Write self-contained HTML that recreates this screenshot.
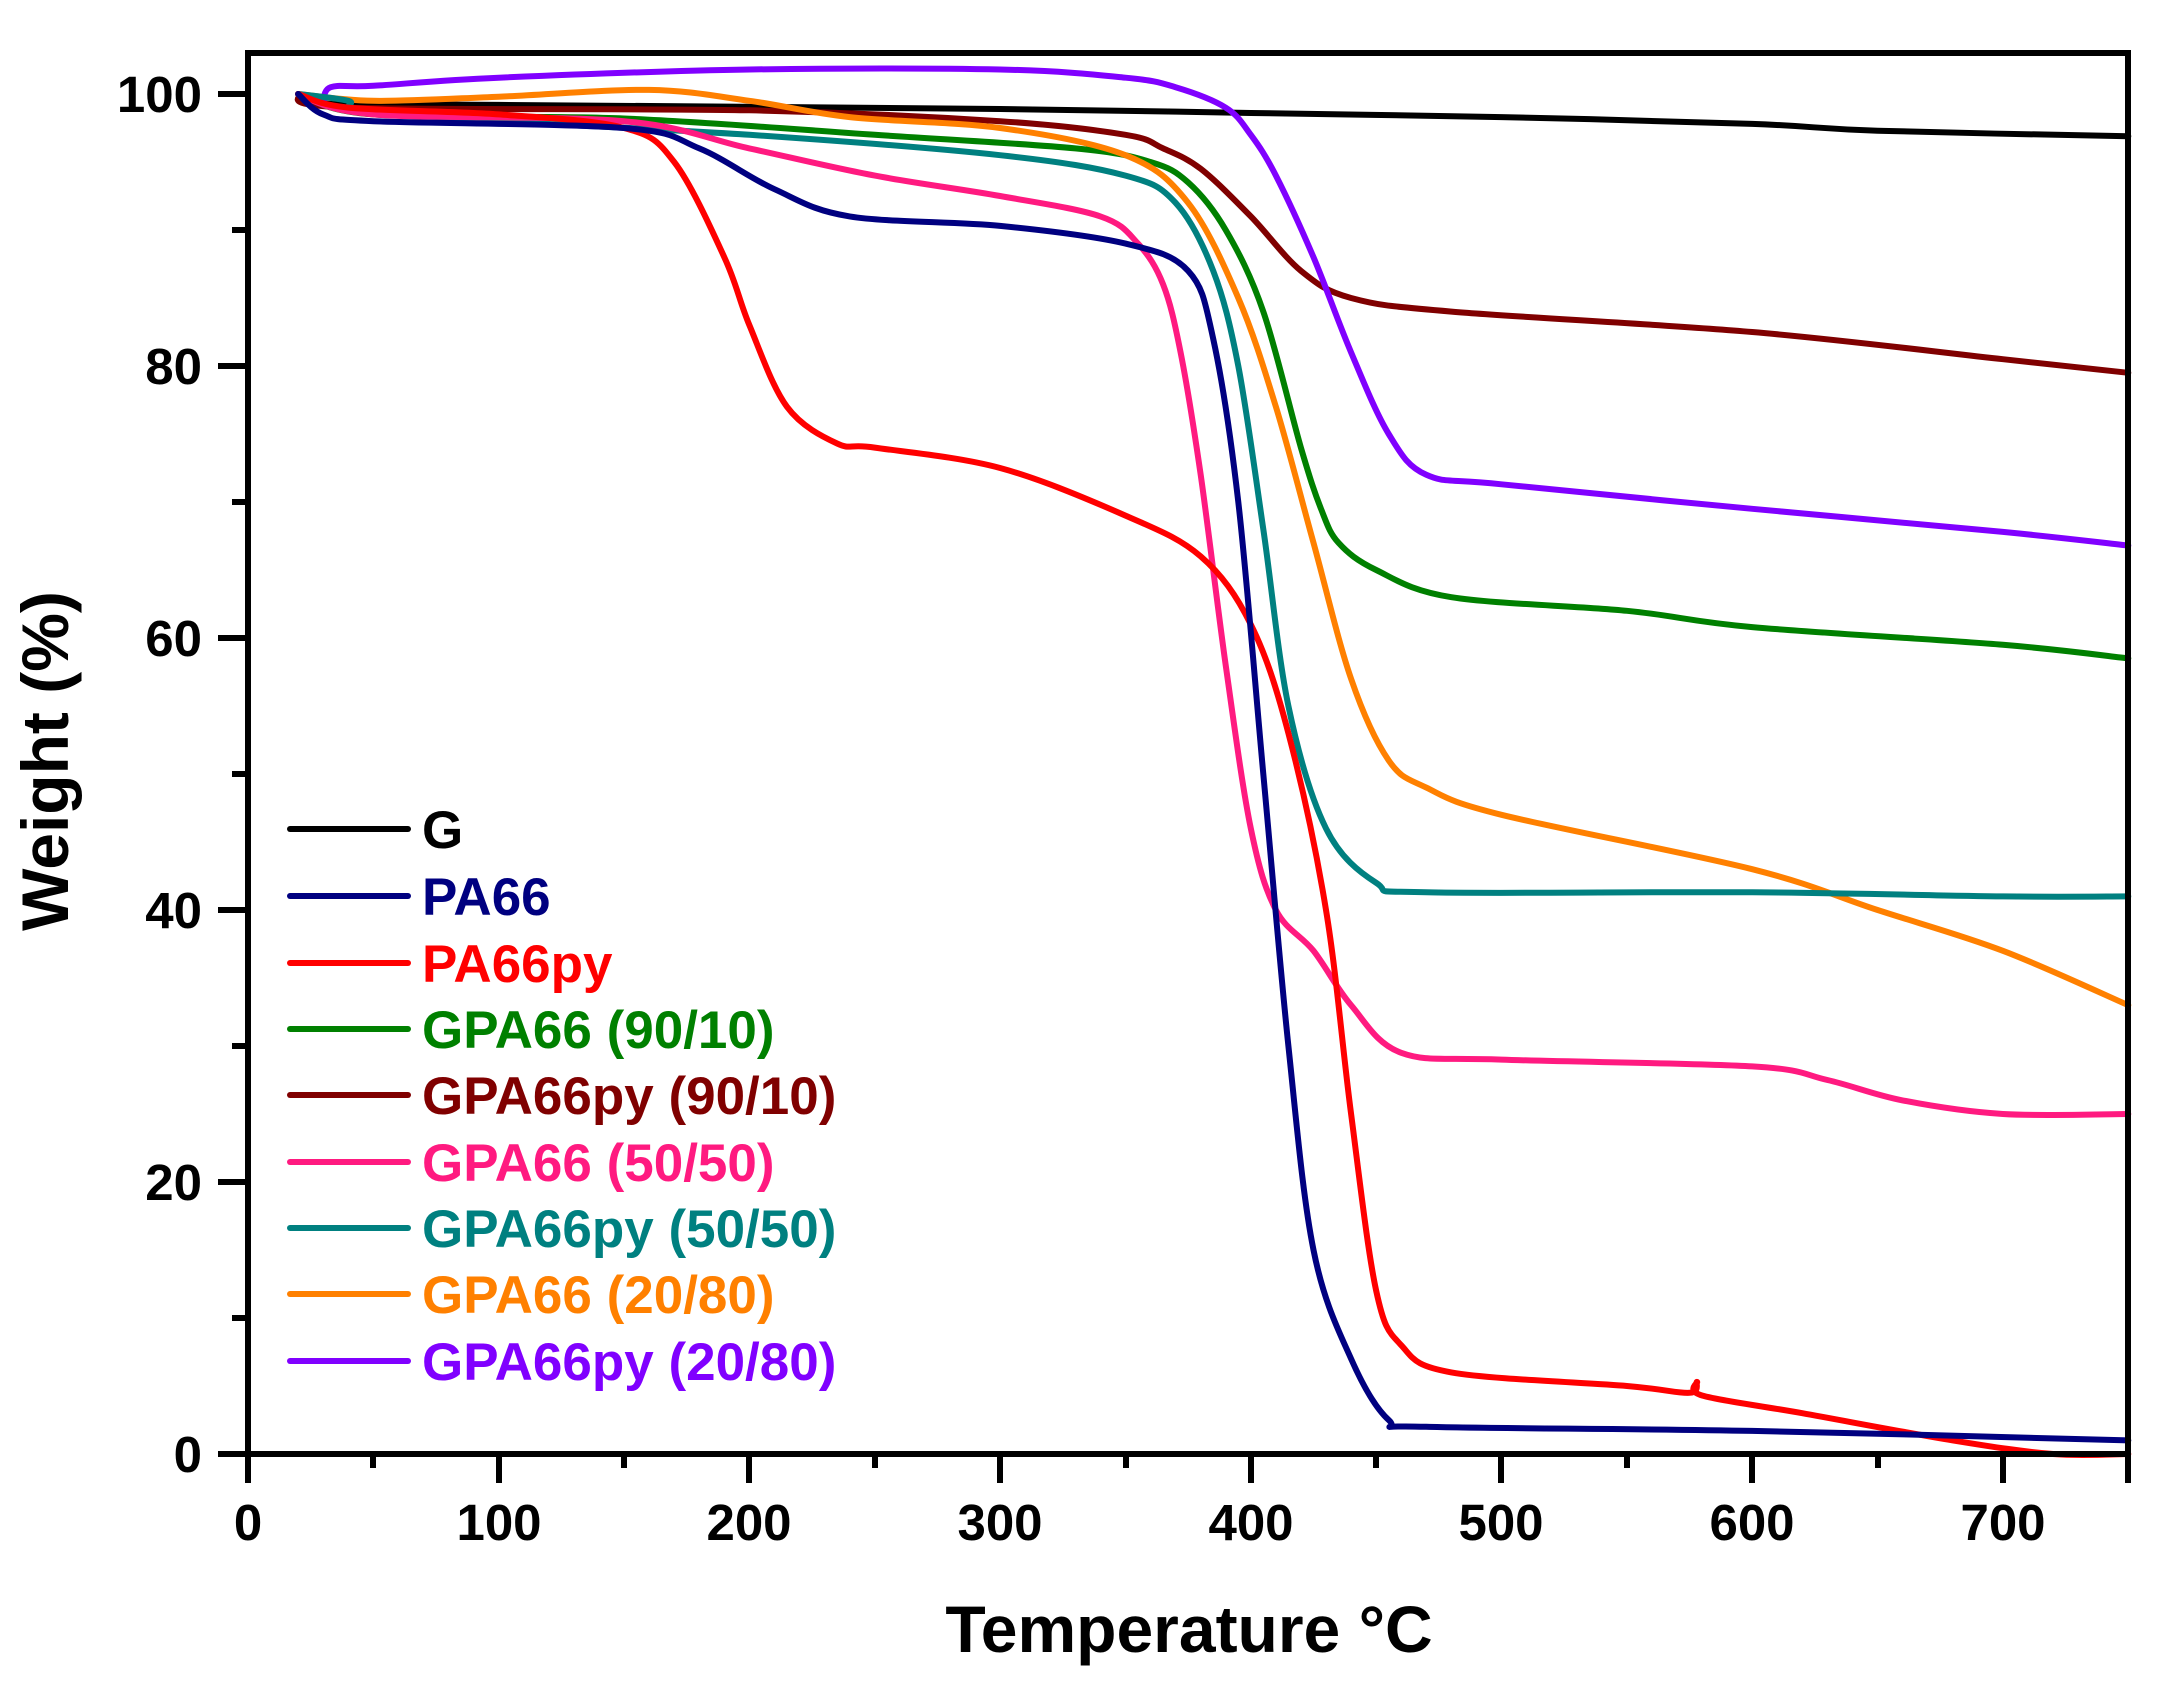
<!DOCTYPE html>
<html><head><meta charset="utf-8"><style>
html,body{margin:0;padding:0;background:#fff}
svg{display:block}
text{font-family:"Liberation Sans",Arial,sans-serif;font-weight:bold}
</style></head><body>
<svg width="2168" height="1686" viewBox="0 0 2168 1686" xmlns="http://www.w3.org/2000/svg">
<g id="curves" fill="none" stroke-linejoin="round" stroke-linecap="round" stroke-width="6">
<polyline stroke="#000" points="20,100 30,99.3 100,99.2 300,98.9 400,98.6 500,98.3 600,97.8 650,97.3 750,96.9"/>
<polyline stroke="#800000" points="20,100 40,99 200,98.8 300,98 350,97 365,96 380,94.5 400,91 420,87 440,85 480,84 600,82.5 700,80.5 750,79.5"/>
<polyline stroke="#008000" points="20,100 50,98.5 150,98.2 250,97 330,96 360,95 375,93.5 390,90 405,84 420,74 428,69.5 435,67 450,65 480,63 550,62 600,60.8 700,59.5 750,58.5"/>
<polyline stroke="#ff8000" points="20,100 50,99.5 100,99.8 160,100.3 200,99.5 240,98.3 300,97.5 350,95.5 375,92 395,85 410,77 425,67 440,57 455,51 470,49 500,47 600,43 650,40 700,37 750,33"/>
<polyline stroke="#8000ff" points="30,99.3 33,100.5 50,100.6 100,101.2 200,101.8 300,101.8 350,101.2 370,100.5 390,99 400,97 410,94 425,88 440,81 455,75 470,72 500,71.3 600,69.5 700,67.8 750,66.8"/>
<polyline stroke="#008080" points="20,100 40,99.5 45,98.8 100,98 200,97 300,95.5 350,94 370,92 385,87 395,80 405,68 415,55 430,46 450,42 470,41.3 600,41.3 700,41 750,41"/>
<polyline stroke="#ff1a80" points="20,100 50,98.5 150,98 200,96 250,94 300,92.5 340,91 355,89 365,86 372,81 380,72 390,58 400,46 410,40 425,37 440,33 460,29.5 500,29 600,28.5 630,27.5 660,26 700,25 750,25"/>
<polyline stroke="#ff0000" points="20,100 40,99 100,98.5 150,97.5 170,95 190,88 200,83 215,77 235,74.3 250,74 300,72.5 350,69 380,66 400,61 415,53 430,40 440,25 450,12 460,8 480,6 550,5 575,4.5 578,5.3 580,4.3 620,3 680,1 720,0 750,0"/>
<polyline stroke="#000080" points="20,100 30,98.5 50,98 150,97.5 180,96 210,93 240,91 300,90.3 350,89 375,87 385,82 395,70 405,50 415,30 425,15 440,7 455,2.5 470,2 600,1.7 750,1"/>
</g>
<g stroke="#000" stroke-width="6" fill="none">
<rect x="248" y="53" width="1880" height="1401"/>
<path d="M218,94H248M218,366H248M218,638H248M218,910H248M218,1182H248M218,1454H248"/>
<path d="M232,230H248M232,502H248M232,774H248M232,1046H248M232,1318H248"/>
<path d="M248,1454V1483M499,1454V1483M749,1454V1483M1000,1454V1483M1251,1454V1483M1501,1454V1483M1752,1454V1483M2003,1454V1483M2128,1454V1483"/>
<path d="M373,1454V1468M624,1454V1468M875,1454V1468M1126,1454V1468M1376,1454V1468M1627,1454V1468M1878,1454V1468"/>
</g>
<g font-size="51" text-anchor="end">
<text x="202" y="112">100</text><text x="202" y="384">80</text><text x="202" y="656">60</text><text x="202" y="928">40</text><text x="202" y="1200">20</text><text x="202" y="1472">0</text>
</g>
<g font-size="51" text-anchor="middle">
<text x="248" y="1540">0</text><text x="499" y="1540">100</text><text x="749" y="1540">200</text><text x="1000" y="1540">300</text><text x="1251" y="1540">400</text><text x="1501" y="1540">500</text><text x="1752" y="1540">600</text><text x="2003" y="1540">700</text>
</g>
<text x="1189" y="1652" font-size="66" text-anchor="middle">Temperature °C</text>
<text transform="translate(68,761) rotate(-90)" font-size="66" text-anchor="middle">Weight (%)</text>
<g stroke-width="6" stroke-linecap="round">
<line x1="290" y1="829" x2="408" y2="829" stroke="#000"/>
<line x1="290" y1="896" x2="408" y2="896" stroke="#000080"/>
<line x1="290" y1="963" x2="408" y2="963" stroke="#ff0000"/>
<line x1="290" y1="1029" x2="408" y2="1029" stroke="#008000"/>
<line x1="290" y1="1095" x2="408" y2="1095" stroke="#800000"/>
<line x1="290" y1="1162" x2="408" y2="1162" stroke="#ff1a80"/>
<line x1="290" y1="1228" x2="408" y2="1228" stroke="#008080"/>
<line x1="290" y1="1294" x2="408" y2="1294" stroke="#ff8000"/>
<line x1="290" y1="1361" x2="408" y2="1361" stroke="#8000ff"/>
</g>
<g font-size="53">
<text x="422" y="848" fill="#000">G</text>
<text x="422" y="915" fill="#000080">PA66</text>
<text x="422" y="982" fill="#ff0000">PA66py</text>
<text x="422" y="1048" fill="#008000">GPA66 (90/10)</text>
<text x="422" y="1114" fill="#800000">GPA66py (90/10)</text>
<text x="422" y="1181" fill="#ff1a80">GPA66 (50/50)</text>
<text x="422" y="1247" fill="#008080">GPA66py (50/50)</text>
<text x="422" y="1313" fill="#ff8000">GPA66 (20/80)</text>
<text x="422" y="1380" fill="#8000ff">GPA66py (20/80)</text>
</g>
</svg>
<script>
(function(){
var NS="http://www.w3.org/2000/svg";
var g=document.getElementById("curves");
var pls=[].slice.call(g.querySelectorAll("polyline"));
pls.forEach(function(pl){
 var pts=pl.getAttribute("points").trim().split(/\s+/).map(function(s){var a=s.split(",");return [248+parseFloat(a[0])*2.507,1454-parseFloat(a[1])*13.6];});
 var d="M"+pts[0][0].toFixed(1)+","+pts[0][1].toFixed(1);
 for(var i=0;i<pts.length-1;i++){
  var p0=pts[i-1]||pts[i],p1=pts[i],p2=pts[i+1],p3=pts[i+2]||p2;
  var t=0.5/3;
  var c1=[p1[0]+(p2[0]-p0[0])*t,p1[1]+(p2[1]-p0[1])*t];
  var c2=[p2[0]-(p3[0]-p1[0])*t,p2[1]-(p3[1]-p1[1])*t];
  d+="C"+c1[0].toFixed(1)+","+c1[1].toFixed(1)+" "+c2[0].toFixed(1)+","+c2[1].toFixed(1)+" "+p2[0].toFixed(1)+","+p2[1].toFixed(1);
 }
 var p=document.createElementNS(NS,"path");
 p.setAttribute("d",d);p.setAttribute("stroke",pl.getAttribute("stroke"));
 g.replaceChild(p,pl);
});
})();
</script>
</body></html>
